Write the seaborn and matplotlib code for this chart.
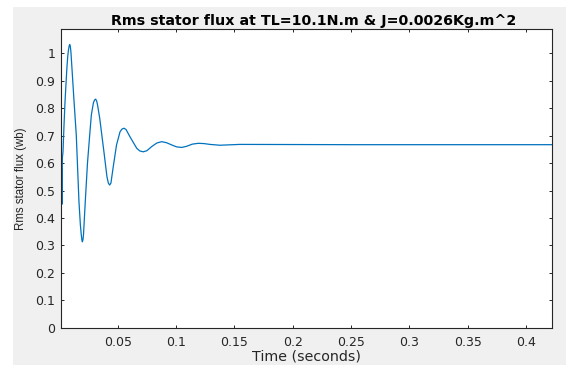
import numpy as np
import pandas as pd
import seaborn as sns
import matplotlib
matplotlib.use("Agg")
import matplotlib.pyplot as plt
from matplotlib.patches import Rectangle

# Data
time_s = [0.0014, 0.0017, 0.0019, 0.0022, 0.0026, 0.0031, 0.0040, 0.0048, 0.0057,
          0.0065, 0.0072, 0.0078, 0.0084, 0.0089, 0.0094, 0.0099, 0.0108, 0.0125,
          0.0145, 0.0168, 0.0180, 0.0188, 0.0193, 0.0197, 0.0202, 0.0207, 0.0222,
          0.0241, 0.0260, 0.0274, 0.0292, 0.0302, 0.0311, 0.0320, 0.0328, 0.0346,
          0.0382, 0.0408, 0.0420, 0.0431, 0.0442, 0.0462, 0.0490, 0.0520, 0.0537,
          0.0554, 0.0572, 0.0605, 0.0663, 0.0690, 0.0719, 0.0750, 0.0791, 0.0835,
          0.0877, 0.0920, 0.0963, 0.1005, 0.1048, 0.1090, 0.1140, 0.1191, 0.1240,
          0.1291, 0.1376, 0.1548, 0.2500, 0.3500, 0.4223]
flux_wb = [0.228, 0.430, 0.580, 0.450, 0.620, 0.640, 0.740, 0.820, 0.890,
           0.950, 0.990, 1.012, 1.027, 1.032, 1.025, 1.005, 0.945, 0.830,
           0.702, 0.459, 0.375, 0.338, 0.320, 0.313, 0.320, 0.340, 0.459,
           0.600, 0.702, 0.775, 0.820, 0.830, 0.833, 0.826, 0.810, 0.763,
           0.641, 0.550, 0.527, 0.520, 0.527, 0.587, 0.666, 0.714, 0.724,
           0.727, 0.722, 0.696, 0.654, 0.644, 0.641, 0.645, 0.660, 0.673,
           0.678, 0.674, 0.666, 0.659, 0.657, 0.661, 0.669, 0.672, 0.671,
           0.668, 0.665, 0.668, 0.667, 0.667, 0.667]
x_ticks = [0.05, 0.1, 0.15, 0.2, 0.25, 0.3, 0.35, 0.4]
x_tick_labels = ["0.05", "0.1", "0.15", "0.2", "0.25", "0.3", "0.35", "0.4"]
y_ticks = [0, 0.1, 0.2, 0.3, 0.4, 0.5, 0.6, 0.7, 0.8, 0.9, 1.0]
y_tick_labels = ["0", "0.1", "0.2", "0.3", "0.4", "0.5", "0.6", "0.7", "0.8", "0.9", "1"]

df = pd.DataFrame({"t": time_s, "flux": flux_wb})

sns.set_theme(style="white")
plt.rcParams['font.family'] = ['DejaVu Sans']

W, H = 566, 365
fig = plt.figure(figsize=(W / 100, H / 100), dpi=100, facecolor="white")
fig.add_artist(Rectangle((13 / W, 0), 1 - 13 / W, (H - 7) / H,
                         transform=fig.transFigure, facecolor="#f0f0f0",
                         edgecolor="none", zorder=-10))
ax = fig.add_axes([61 / W, (H - 327.7) / H, (552 - 61) / W, (327.7 - 29.3) / H])
ax.set_facecolor("white")

sns.lineplot(data=df, x="t", y="flux", ax=ax, color="#0072BD", linewidth=0.9,
             estimator=None, sort=False)

ax.set_xlim(0.0014, 0.4223)
ax.set_ylim(0, 1.0875)
ax.set_xticks(x_ticks)
ax.set_xticklabels(x_tick_labels)
ax.set_yticks(y_ticks)
ax.set_yticklabels(y_tick_labels)

dark = "#262626"
for s in ax.spines.values():
    s.set_visible(True)
    s.set_color(dark)
    s.set_linewidth(0.8)
ax.tick_params(axis="both", which="both", direction="in", length=2.5, width=0.7,
               color=dark, labelcolor=dark, labelsize=9,
               top=True, right=True, bottom=True, left=True)
ax.tick_params(axis="x", pad=6)
ax.tick_params(axis="y", pad=4)

ax.set_xlabel("Time (seconds)", fontsize=10.3, color=dark, labelpad=0)
ax.set_ylabel("Rms stator flux (wb)", fontsize=8.3, color=dark, labelpad=6,
              family=["Liberation Sans", "DejaVu Sans"])
ax.set_title("Rms stator flux at TL=10.1N.m & J=0.0026Kg.m^2", fontsize=10.3,
             fontweight="bold", color="black", pad=3, x=0.515)

fig.savefig("out.png", dpi=100, facecolor=fig.get_facecolor())
